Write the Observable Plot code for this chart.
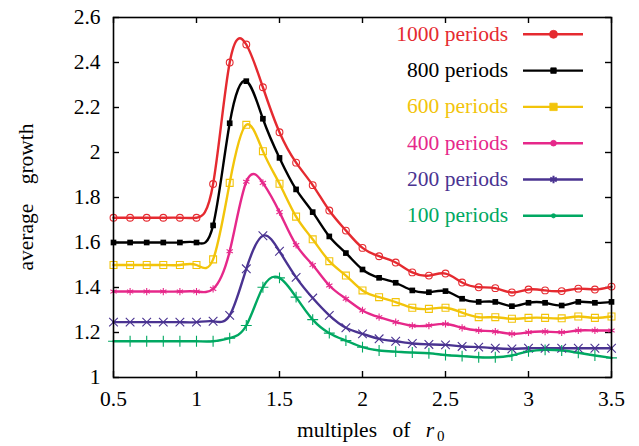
<!DOCTYPE html>
<html>
<head>
<meta charset="utf-8">
<script src="https://cdn.jsdelivr.net/npm/d3@7"></script>
<script src="https://cdn.jsdelivr.net/npm/@observablehq/plot@0.6"></script>
<style>
  html, body { margin: 0; padding: 0; background: #fff; }
  #chart { width: 639px; height: 446px; }
</style>
</head>
<body>
<div id="chart"></div>
<script>
// Sample positions (multiples of r0)
const xValues = [0.5, 0.6, 0.7, 0.8, 0.9, 1.0, 1.1, 1.2, 1.3, 1.4, 1.5, 1.6, 1.7, 1.8, 1.9, 2.0,
                 2.1, 2.2, 2.3, 2.4, 2.5, 2.6, 2.7, 2.8, 2.9, 3.0, 3.1, 3.2, 3.3, 3.4, 3.5];

// Average growth for each run length
const periods1000 = [1.71, 1.71, 1.71, 1.71, 1.71, 1.71, 1.86, 2.40, 2.48, 2.29, 2.09, 1.955, 1.855, 1.742, 1.653, 1.576,
                     1.539, 1.511, 1.467, 1.453, 1.462, 1.422, 1.401, 1.397, 1.378, 1.391, 1.387, 1.384, 1.395, 1.391, 1.404];
const periods800  = [1.60, 1.60, 1.60, 1.60, 1.60, 1.60, 1.676, 2.13, 2.317, 2.15, 1.976, 1.836, 1.735, 1.627, 1.553, 1.48,
                     1.443, 1.421, 1.387, 1.379, 1.384, 1.35, 1.336, 1.336, 1.317, 1.332, 1.332, 1.32, 1.336, 1.332, 1.336];
const periods600  = [1.50, 1.50, 1.50, 1.50, 1.50, 1.50, 1.525, 1.865, 2.123, 2.006, 1.861, 1.715, 1.614, 1.517, 1.453, 1.387,
                     1.357, 1.335, 1.31, 1.305, 1.31, 1.288, 1.268, 1.268, 1.261, 1.265, 1.265, 1.263, 1.271, 1.265, 1.271];
const periods400  = [1.382, 1.382, 1.382, 1.382, 1.382, 1.382, 1.394, 1.561, 1.87, 1.865, 1.735, 1.589, 1.5, 1.409, 1.35, 1.298,
                     1.268, 1.246, 1.23, 1.231, 1.238, 1.221, 1.209, 1.204, 1.194, 1.201, 1.204, 1.201, 1.209, 1.209, 1.209];
const periods200  = [1.246, 1.246, 1.246, 1.246, 1.246, 1.246, 1.25, 1.276, 1.483, 1.63, 1.561, 1.445, 1.353, 1.276, 1.221, 1.194,
                     1.172, 1.161, 1.151, 1.147, 1.145, 1.138, 1.135, 1.13, 1.127, 1.13, 1.13, 1.13, 1.13, 1.13, 1.13];
const periods100  = [1.161, 1.161, 1.161, 1.161, 1.161, 1.161, 1.161, 1.175, 1.231, 1.401, 1.443, 1.357, 1.257, 1.197, 1.164, 1.135,
                     1.12, 1.115, 1.111, 1.108, 1.1, 1.095, 1.09, 1.09, 1.098, 1.116, 1.123, 1.12, 1.11, 1.098, 1.087];

const seriesNames  = ["1000 periods", "800 periods", "600 periods", "400 periods", "200 periods", "100 periods"];
const seriesValues = [periods1000, periods800, periods600, periods400, periods200, periods100];
const seriesColors = ["#e52a30", "#000000", "#f2c40a", "#e6288a", "#4a3391", "#00a862"];
const seriesSymbols = ["circle", "square", "square", "asterisk", "times", "plus"];
const seriesFilled  = [false, true, false, false, false, false];
const seriesSizes   = [3.4, 3.2, 3.9, 3.4, 4.0, 3.6];

const xTicks = [0.5, 1, 1.5, 2, 2.5, 3, 3.5];
const xTickLabels = ["0.5", "1", "1.5", "2", "2.5", "3", "3.5"];
const yTicks = [1, 1.2, 1.4, 1.6, 1.8, 2, 2.2, 2.4, 2.6];
const yTickLabels = ["1", "1.2", "1.4", "1.6", "1.8", "2", "2.2", "2.4", "2.6"];

const W = 639, H = 446;
const M = {left: 113, right: 28, top: 17, bottom: 69};
const innerW = W - M.left - M.right, innerH = H - M.top - M.bottom;
const FONT = "Liberation Serif";
const FS = 21.5;
const tickLen = 6;

const rows = seriesNames.flatMap((name, s) =>
  xValues.map((x, i) => ({series: name, s, x, y: seriesValues[s][i]})));

const lineMarks = seriesNames.map((name, s) =>
  Plot.line(rows.filter(d => d.s === s), {
    x: "x", y: "y", curve: "natural",
    stroke: seriesColors[s], strokeWidth: 2.4
  }));

const dotMarks = seriesNames.map((name, s) =>
  Plot.dot(rows.filter(d => d.s === s), {
    x: "x", y: "y", symbol: seriesSymbols[s], r: seriesSizes[s],
    fill: seriesFilled[s] ? seriesColors[s] : "none",
    stroke: seriesFilled[s] ? "none" : seriesColors[s],
    strokeWidth: 1.1
  }));

const chart = Plot.plot({
  width: W, height: H,
  marginLeft: M.left, marginRight: M.right, marginTop: M.top, marginBottom: M.bottom,
  x: {domain: [0.5, 3.5], axis: null},
  y: {domain: [1, 2.6], axis: null},
  marks: [
    // inward ticks on all four sides
    Plot.tickX(xTicks, {x: d => d, insetTop: innerH - tickLen, strokeWidth: 1.4}),
    Plot.tickX(xTicks, {x: d => d, insetBottom: innerH - tickLen, strokeWidth: 1.4}),
    Plot.tickY(yTicks, {y: d => d, insetRight: innerW - tickLen, strokeWidth: 1.4}),
    Plot.tickY(yTicks, {y: d => d, insetLeft: innerW - tickLen, strokeWidth: 1.4}),
    Plot.axisX(xTicks, {anchor: "bottom", tickSize: 0, tickPadding: 13, fontSize: FS,
      tickFormat: d => xTickLabels[xTicks.indexOf(d)], label: null}),
    Plot.axisY(yTicks, {anchor: "left", tickSize: 0, tickPadding: 13, fontSize: FS,
      tickFormat: d => yTickLabels[yTicks.indexOf(d)], label: null}),
    ...lineMarks,
    ...dotMarks,
    Plot.frame({stroke: "#000", strokeWidth: 1.6})
  ]
});

document.getElementById("chart").appendChild(chart);

const svg = d3.select(chart);

// Axis titles
const xTitle = svg.append("text")
  .attr("x", 297).attr("y", 437)
  .attr("text-anchor", "start")
  .attr("font-size", FS).attr("fill", "#000")
  .attr("word-spacing", 10);
xTitle.append("tspan").text("multiples of ");
xTitle.append("tspan").attr("font-style", "italic").text("r");
xTitle.append("tspan").attr("dx", 3).attr("dy", 4).attr("font-size", 15).text("0");

svg.append("text")
  .attr("transform", "translate(33,197) rotate(-90)")
  .attr("text-anchor", "middle")
  .attr("font-size", FS).attr("fill", "#000")
  .attr("word-spacing", 14)
  .text("average growth");

// Key in the upper right
const keyTextX = 508, keyLineX1 = 523, keyLineX2 = 583, keyTop = 34.3, keyStep = 36.3;
const keySymbols = [d3.symbolCircle, d3.symbolSquare, d3.symbolSquare, d3.symbolCircle, d3.symbolAsterisk, d3.symbolCircle];
const keySizes = [50, 30, 55, 26, 40, 14];
seriesNames.forEach((name, s) => {
  const cy = keyTop + s * keyStep;
  svg.append("text")
    .attr("x", keyTextX).attr("y", cy + 6.5)
    .attr("text-anchor", "end")
    .attr("font-size", FS)
    .attr("fill", seriesColors[s])
    .text(name);
  svg.append("line")
    .attr("x1", keyLineX1).attr("x2", keyLineX2)
    .attr("y1", cy).attr("y2", cy)
    .attr("stroke", seriesColors[s]).attr("stroke-width", 2.4);
  svg.append("path")
    .attr("transform", `translate(${(keyLineX1 + keyLineX2) / 2 + 0.5},${cy})`)
    .attr("d", d3.symbol(keySymbols[s], keySizes[s])())
    .attr("fill", seriesColors[s])
    .attr("stroke", seriesColors[s]).attr("stroke-width", s === 4 ? 2 : 0.8);
});

// Serif type throughout
svg.attr("font-family", FONT);
svg.selectAll("text, tspan").attr("font-family", FONT);
</script>
</body>
</html>
